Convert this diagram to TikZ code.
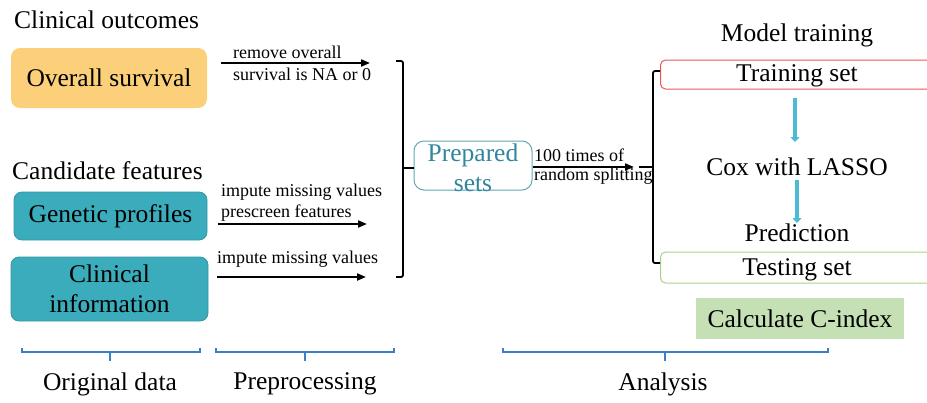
\documentclass[tikz,border=0pt]{standalone}
\usepackage{fontspec}
\setmainfont{Liberation Serif}
\usetikzlibrary{arrows.meta}
\definecolor{osfill}{RGB}{252,208,122}
\definecolor{tealfill}{RGB}{59,172,187}
\definecolor{tealdraw}{RGB}{52,150,165}
\definecolor{prepdraw}{RGB}{95,168,181}
\definecolor{preptext}{RGB}{49,133,156}
\definecolor{trainred}{RGB}{238,85,85}
\definecolor{testgreen}{RGB}{169,209,142}
\definecolor{calcfill}{RGB}{197,224,180}
\definecolor{arrowblue}{RGB}{75,186,212}
\definecolor{braceblue}{RGB}{58,128,200}
\begin{document}
\begin{tikzpicture}[x=1pt,y=-1pt,
  big/.style={font=\fontsize{25.5}{30}\selectfont, inner sep=0pt},
  small/.style={font=\fontsize{18}{21}\selectfont, inner sep=0pt, anchor=west},
  databox/.style={big, rounded corners=9pt, align=center},
  arr/.style={line width=2pt, -{Triangle[length=9pt,width=7pt]}},
  bracket/.style={line width=1.8pt, rounded corners=2pt},
  bluearr/.style={draw=arrowblue, line width=4.8pt, -{Triangle[length=5pt,width=9pt]}},
  bbrace/.style={draw=braceblue, line width=1.6pt}]
\useasboundingbox (0,0) rectangle (927,402);
\clip (0,0) rectangle (927,402);

% Original data
\node[big, anchor=west] (outc) at (14,20) {Clinical outcomes};
\node[databox, fill=osfill, minimum width=196, minimum height=60] (os) at (109,78) {Overall survival};
\node[big, anchor=west] (cand) at (12,171) {Candidate features};
\node[databox, fill=tealfill, draw=tealdraw, line width=0.8pt, rounded corners=8pt, minimum width=193, minimum height=48] (gen) at (110.5,216) {Genetic profiles};
\node[databox, fill=tealfill, draw=tealdraw, line width=0.8pt, rounded corners=8pt, minimum width=197, minimum height=64] (clin) at (109.5,289) {Clinical\\information};

% Preprocessing arrows
\coordinate (a1s) at (221,63); \coordinate (a1e) at (370,63);
\draw[arr] (a1s) -- (a1e);
\node[small] (l1a) at (233,52) {remove overall};
\node[small] (l1b) at (233,74) {survival is NA or 0};

\coordinate (a2s) at (218,224); \coordinate (a2e) at (367,224);
\draw[arr] (a2s) -- (a2e);
\node[small] (l2a) at (221,192) {impute missing values};
\node[small] (l2b) at (221,213) {prescreen features};

\coordinate (a3s) at (217,277); \coordinate (a3e) at (366,277);
\draw[arr] (a3s) -- (a3e);
\node[small] (l3a) at (217,259) {impute missing values};

% Prepared sets
\node[draw=prepdraw, line width=1pt, rounded corners=10pt, minimum width=118, minimum height=49, inner sep=0pt] (prep) at (473,165.5) {};
\node[big, text=preptext, align=center] (prept) at (473,168) {Prepared\\sets};

% left bracket
\coordinate (lbt) at (396,61); \coordinate (lbb) at (396,277);
\draw[bracket] (lbt) -- (403,61) -- (403,277) -- (lbb);
\draw[line width=1.8pt] (403,168) -- (prep.west |- 403,168);

% split arrow
\coordinate (se) at (634,167);
\draw[arr] (prep.east |- se) -- (se);
\node[small] (l4a) at (534,155) {100 times of};
\node[small] (l4b) at (534,176) {random splitting};

% Analysis
\node[big] (mt) at (797,35) {Model training};
\node[draw=trainred, line width=1pt, rounded corners=5pt, minimum width=300, minimum height=29, inner sep=0pt, anchor=west] (train) at (660,74.5) {};
\node[big] (traint) at (797,76) {Training set};
\node[big] (cox) at (797,167) {Cox with LASSO};
\node[big] (pred) at (797,233) {Prediction};
\node[draw=testgreen, line width=1pt, rounded corners=5pt, minimum width=300, minimum height=31, inner sep=0pt, anchor=west] (test) at (660,267.5) {};
\node[big] (testt) at (797,270) {Testing set};
\node[big, fill=calcfill, minimum width=208, minimum height=41] (calc) at (800,318.5) {Calculate C-index};

% right bracket
\coordinate (rbt) at (train.west |- 660,71); \coordinate (rbb) at (test.west |- 660,263);
\draw[line width=1.8pt] (639,167) -- (653,167);
\draw[bracket] (rbt) -- (653,71) -- (653,263) -- (rbb);

% blue arrows
\coordinate (b1s) at (795,98); \coordinate (b1e) at (795,142);
\coordinate (b2s) at (797,180); \coordinate (b2e) at (797,223);
\draw[bluearr] (b1s) -- (b1e);
\draw[bluearr] (b2s) -- (b2e);

% bottom braces
\draw[bbrace] (22,348) -- (22,352) -- (200,352) -- (200,348);
\draw[bbrace] (110,352) -- (110,361);
\draw[bbrace] (216,348) -- (216,352) -- (394,352) -- (394,348);
\draw[bbrace] (305,352) -- (305,361);
\draw[bbrace] (503,348) -- (503,352) -- (828,352) -- (828,348);
\draw[bbrace] (665,352) -- (665,361);
\node[big] (orig) at (110,384) {Original data};
\node[big] (prepr) at (305,384) {Preprocessing};
\node[big] (anal) at (663,384) {Analysis};
\end{tikzpicture}
\end{document}
